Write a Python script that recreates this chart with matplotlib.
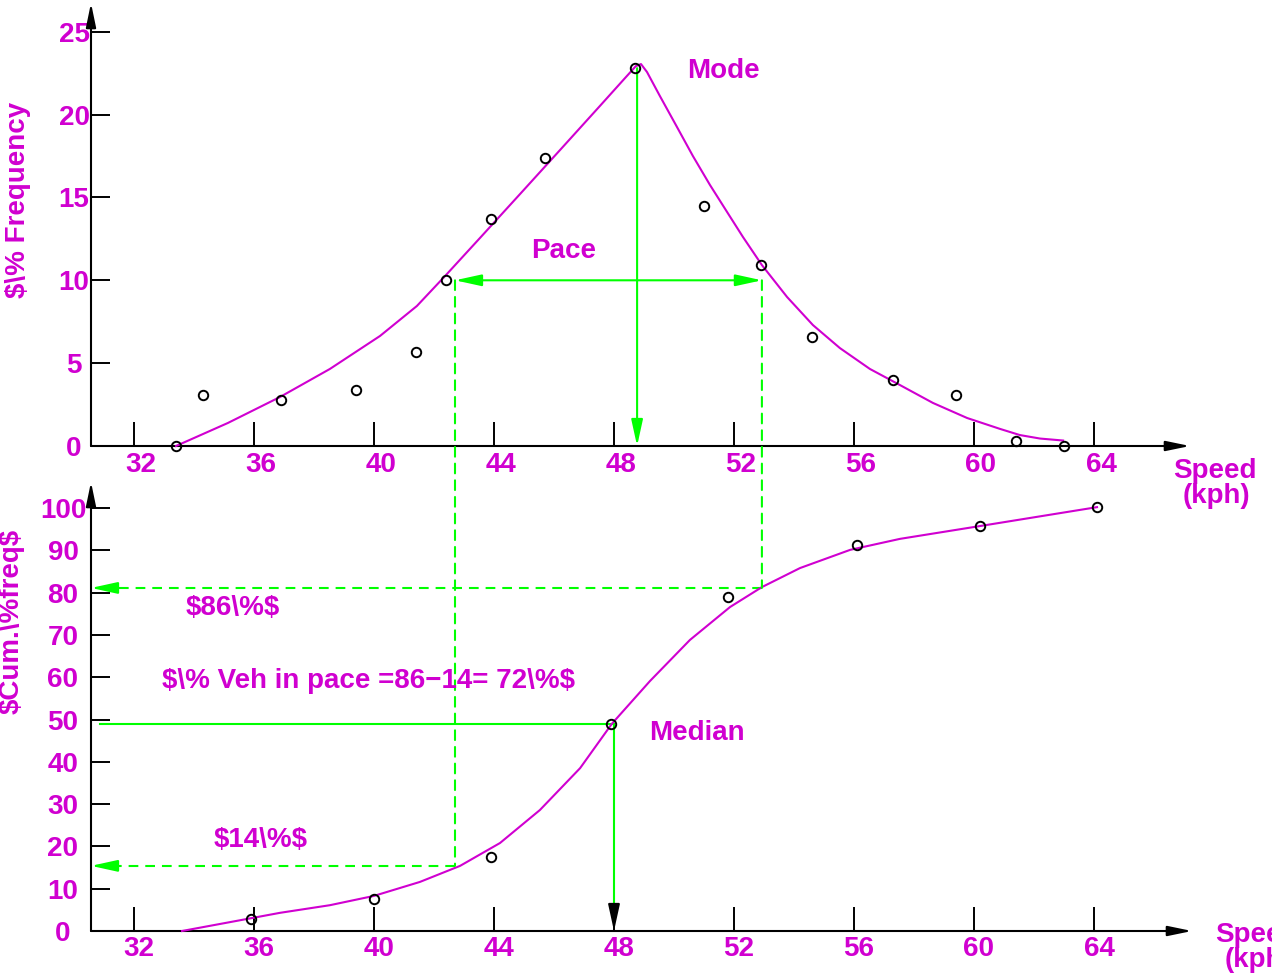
import matplotlib
matplotlib.use('Agg')
import matplotlib.pyplot as plt
from matplotlib.patches import ConnectionPatch
from matplotlib.transforms import ScaledTranslation

plt.rcParams['font.family'] = ['Liberation Sans', 'DejaVu Sans']
plt.rcParams['font.weight'] = 'bold'
plt.rcParams['text.parse_math'] = False
plt.rcParams['lines.scale_dashes'] = False

W, H, DPI = 1272, 973, 100
MAG = '#d000d0'
GRN = '#00ff00'

# ---------------- data ----------------
speed_ticks = [32, 36, 40, 44, 48, 52, 56, 60, 64]
freq_ticks = [0, 5, 10, 15, 20, 25]
cum_ticks = [0, 10, 20, 30, 40, 50, 60, 70, 80, 90, 100]

freq_speed = [33.4, 34.3, 36.9, 39.4, 41.4, 42.4, 43.9, 45.7, 48.7, 51.0, 52.9, 54.6, 57.3, 59.4, 61.4, 63.0]
freq_pct = [0.0, 3.1, 2.8, 3.4, 5.7, 10.0, 13.7, 17.4, 22.8, 14.5, 10.9, 6.6, 4.0, 3.1, 0.3, 0.0]

freq_curve_speed = [33.4, 35.13, 36.87, 38.53, 40.2, 41.43, 42.37, 43.53, 44.87, 46.2, 47.53, 48.37,
                    48.73, 48.9, 49.1, 49.53, 50.1, 50.63, 51.2, 51.77, 52.3, 52.93, 53.77,
                    54.63, 55.53, 56.53, 57.53, 58.63, 59.77, 60.87, 61.53, 62.2, 62.97]
freq_curve_pct = [0.0, 1.39, 2.96, 4.65, 6.64, 8.45, 10.26, 12.55, 15.21, 17.86, 20.52, 22.21,
                  22.93, 23.05, 22.57, 21.12, 19.25, 17.5, 15.75, 14.12, 12.61, 10.92, 8.99,
                  7.3, 5.91, 4.65, 3.68, 2.6, 1.69, 1.03, 0.66, 0.45, 0.33]

cum_speed = [35.9, 40.0, 43.9, 47.9, 51.8, 56.1, 60.2, 64.1]
cum_pct = [2.8, 7.6, 17.5, 49.0, 79.0, 91.3, 95.7, 100.2]

cum_curve_speed = [33.6, 35.2, 36.87, 38.53, 40.0, 41.53, 42.87, 44.2, 45.53, 46.87, 47.93,
                   49.2, 50.53, 51.87, 52.93, 54.2, 55.87, 57.53, 60.17, 64.1]
cum_curve_pct = [0.0, 2.1, 4.3, 6.1, 8.3, 11.6, 15.4, 20.8, 28.6, 38.5, 49.0,
                 59.1, 68.8, 76.6, 81.3, 85.8, 90.1, 92.7, 95.7, 100.2]

mode_speed, mode_pct = 48.77, 22.8
pace_lo, pace_hi, pace_level = 42.7, 52.93, 10.0
pct_lo_level, pct_hi_level = 15.4, 81.1
median_speed, median_level = 48.0, 49.0

# ---------------- layout helpers ----------------
def s_of(px):
    return 48 + (px - 614) / 30.0

def fx(px):
    return px / W

def fy(py):
    return 1 - py / H

fig = plt.figure(figsize=(W / DPI, H / DPI), dpi=DPI)
fig.patch.set_facecolor('white')

ax1 = fig.add_axes([fx(91), fy(446), (1190 - 91) / W, (446 - 3) / H])
ax2 = fig.add_axes([fx(91), fy(931), (1192 - 91) / W, (931 - 482) / H])
ax1.set_xlim(s_of(91), s_of(1190))
ax1.set_ylim(0, 443 / 16.57)
ax2.set_xlim(s_of(91), s_of(1192))
ax2.set_ylim(0, 449 / 4.23)

for ax, yt, ypad, xpad, xoff in [(ax1, freq_ticks, 12.2, 4.3, 7), (ax2, cum_ticks, 20.2, 3.6, 5)]:
    ax.set_facecolor('none')
    for sp in ax.spines.values():
        sp.set_visible(False)
    ax.set_xticks(speed_ticks)
    ax.set_xticklabels([str(t) for t in speed_ticks])
    ax.set_yticks(yt)
    ax.set_yticklabels([str(t) for t in yt])
    ax.tick_params(axis='x', direction='in', length=17.5, width=1.4, color='k',
                   labelsize=20, labelcolor=MAG, pad=xpad)
    ax.tick_params(axis='y', direction='in', length=13.8, width=1.4, color='k',
                   labelsize=20, labelcolor=MAG, pad=ypad)
    for lab in ax.get_yticklabels():
        lab.set_horizontalalignment('center')
        lab.set_fontweight('bold')
    for lab in ax.get_xticklabels():
        lab.set_fontweight('bold')
        lab.set_transform(lab.get_transform() + ScaledTranslation(xoff / DPI, 0, fig.dpi_scale_trans))
    # axis arrows
    arr = dict(arrowstyle='-|>,head_length=1.45,head_width=0.3', color='k', lw=1.5,
               shrinkA=0, shrinkB=0, mutation_scale=10)
    ax.annotate('', xy=(1, 0), xytext=(0, 0), xycoords='axes fraction', arrowprops=arr,
                annotation_clip=False)
    ax.annotate('', xy=(0, 1), xytext=(0, 0), xycoords='axes fraction', arrowprops=arr,
                annotation_clip=False)

# ---------------- top: frequency ----------------
ax1.plot(freq_curve_speed, freq_curve_pct, color=MAG, lw=1.5, clip_on=False, zorder=3,
         solid_joinstyle='round')
ax1.plot(freq_speed, freq_pct, 'o', mfc='none', mec='k', ms=6.8, mew=1.4, clip_on=False, zorder=5)

garr = dict(arrowstyle='-|>,head_length=1.6,head_width=0.35', color=GRN, lw=1.5,
            shrinkA=0, shrinkB=0, mutation_scale=10)
ax1.annotate('', xy=(mode_speed, 0), xytext=(mode_speed, mode_pct), arrowprops=garr,
             annotation_clip=False)
garr2 = dict(garr)
garr2['arrowstyle'] = '<|-|>,head_length=1.6,head_width=0.35'
ax1.annotate('', xy=(pace_hi, pace_level), xytext=(pace_lo, pace_level), arrowprops=garr2,
             annotation_clip=False)

# ---------------- bottom: cumulative ----------------
ax2.plot(cum_curve_speed, cum_curve_pct, color=MAG, lw=1.5, clip_on=False, zorder=3,
         solid_joinstyle='round')
ax2.plot(cum_speed, cum_pct, 'o', mfc='none', mec='k', ms=6.8, mew=1.4, clip_on=False, zorder=5)

dash = (0, (7, 5))
x_left = s_of(91)
for lvl, xr in [(pct_hi_level, pace_hi), (pct_lo_level, pace_lo)]:
    ax2.plot([xr, x_left + 0.6], [lvl, lvl], color=GRN, lw=1.5, linestyle=dash, clip_on=False)
    ax2.annotate('', xy=(x_left, lvl), xytext=(x_left + 0.8, lvl), arrowprops=garr,
                 annotation_clip=False)

# median lines
ax2.plot([s_of(100), median_speed], [median_level, median_level], color=GRN, lw=1.5, clip_on=False)
ax2.plot([median_speed, median_speed], [median_level, 3], color=GRN, lw=1.5, clip_on=False)
barr = dict(garr)
barr['color'] = 'k'
ax2.annotate('', xy=(median_speed, 0), xytext=(median_speed, 5.5), arrowprops=barr,
             annotation_clip=False)

# dashed verticals spanning both panels
for xv, lvl in [(pace_lo, pct_lo_level), (pace_hi, pct_hi_level)]:
    cp = ConnectionPatch(xyA=(xv, pace_level), coordsA=ax1.transData,
                         xyB=(xv, lvl), coordsB=ax2.transData,
                         color=GRN, lw=1.5, linestyle=dash)
    fig.add_artist(cp)

# ---------------- texts ----------------
tk = dict(color=MAG, fontsize=20, fontweight='bold')
fig.text(fx(723), fy(78), 'Mode', ha='center', va='baseline', **tk)
fig.text(fx(564), fy(258), 'Pace', ha='center', va='baseline', **tk)
fig.text(fx(697), fy(740), 'Median', ha='center', va='baseline', **tk)
fig.text(fx(233), fy(615), '$86\\%$', ha='center', va='baseline', **tk)
fig.text(fx(261), fy(847), '$14\\%$', ha='center', va='baseline', **tk)
fig.text(fx(368), fy(688), '$\\% Veh in pace =86\u221214= 72\\%$', ha='center', va='baseline', **tk)
fig.text(fx(25), fy(200), '$\\% Frequency', rotation=90, rotation_mode='anchor',
         ha='center', va='baseline', **tk)
fig.text(fx(19), fy(621), '$Cum.\\%freq$', rotation=90, rotation_mode='anchor',
         ha='center', va='baseline', **tk)
fig.text(fx(1215), fy(478), 'Speed', ha='center', va='baseline', **tk)
fig.text(fx(1216), fy(503), '(kph)', ha='center', va='baseline', **tk)
fig.text(fx(1257), fy(942), 'Speed', ha='center', va='baseline', **tk)
fig.text(fx(1258), fy(967), '(kph)', ha='center', va='baseline', **tk)

fig.savefig('out.png', dpi=DPI, facecolor='white')
